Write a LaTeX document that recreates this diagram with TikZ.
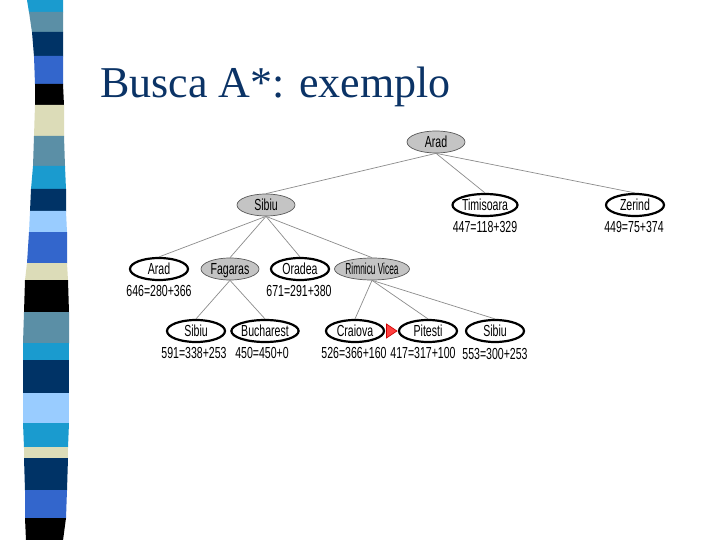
\documentclass[tikz,border=0pt]{standalone}
\usepackage{fontspec}
\setmainfont{Liberation Serif}
\newfontfamily\treefont[FakeStretch=0.66]{Liberation Sans}
\newfontfamily\narrowtree[FakeStretch=0.52]{Liberation Sans}
\usetikzlibrary{shapes.geometric}
\definecolor{titlecol}{HTML}{0B3366}
\definecolor{scyan}{HTML}{1A9BCF}
\definecolor{ssteel}{HTML}{5B8FA6}
\definecolor{snavy}{HTML}{003366}
\definecolor{sroyal}{HTML}{3366CC}
\definecolor{sbeige}{HTML}{DCDCB8}
\definecolor{slight}{HTML}{99CCFF}
\definecolor{nodegray}{HTML}{C4C4C4}
\tikzset{
  basenode/.style={ellipse, minimum width=58pt, minimum height=22pt, inner sep=0pt, text height=12pt, text depth=1.5pt, font=\treefont\fontsize{16}{16}\selectfont},
  wnode/.style={basenode, draw=black, line width=2.2pt, fill=white},
  gnode/.style={basenode, draw=black!65, line width=0.7pt, fill=nodegray},
  lab/.style={inner sep=0pt, font=\treefont\fontsize{16}{16}\selectfont},
  edge/.style={draw=black!45, line width=0.7pt}
}
\begin{document}
\begin{tikzpicture}[x=1pt,y=-1pt]
\useasboundingbox (0,0) rectangle (720,540);
\fill[white] (0,0) rectangle (720,540);
% left decorative stripe
\foreach \ya/\yb/\la/\ra/\lb/\rb/\c in {
  0/12/27/63/29/63/scyan,
  12/32/29/63/32/63/ssteel,
  32/56/32/63/34/63/snavy,
  56/84/34/63/35/63/sroyal,
  84/105/35/63/35/64/black,
  105/136/35/64/34/64/sbeige,
  136/166/34/64/33/65/ssteel,
  166/189/33/65/31/66/scyan,
  189/211/31/66/30/66/snavy,
  211/232/30/66/29/67/slight,
  232/263/29/67/27/67/sroyal,
  263/280/27/67/25/68/sbeige,
  280/312/25/68/24/69/black,
  312/343/24/69/23/69/ssteel,
  343/360/23/69/23/69/scyan,
  360/393/23/69/23/69/snavy,
  393/423/23/69/23/69/slight,
  423/447/23/69/24/68/scyan,
  447/458/24/68/24/68/sbeige,
  458/490/24/68/25/67/snavy,
  490/518/25/67/25/66/sroyal,
  518/540/25/66/26/63/black}
  \fill[\c] (\la,\ya) -- (\ra,\ya) -- (\rb,\yb+0.4) -- (\lb,\yb+0.4) -- cycle;
% title
\node[anchor=base west, inner sep=0pt, text=titlecol, font=\fontsize{44}{52}\selectfont] (title) at (100,98) {Busca A*: exemplo};
% tree nodes
\node[gnode] (arad) at (436,142) {Arad};
\node[gnode] (sibiu) at (266,205) {Sibiu};
\node[wnode] (timi) at (485,205) {Timisoara};
\node[wnode] (zerind) at (635,205) {Zerind};
\node[wnode] (arad2) at (159,269) {Arad};
\node[gnode] (fagaras) at (230,269) {Fagaras};
\node[wnode] (oradea) at (300,269) {Oradea};
\node[gnode, font=\narrowtree\fontsize{16}{16}\selectfont] (rimnicu) at (372,269) {Rimnicu Vicea};
\node[wnode] (sibiu3) at (196,331) {Sibiu};
\node[wnode] (buch) at (265,331) {Bucharest};
\node[wnode] (craiova) at (355,331) {Craiova};
\node[wnode] (pitesti) at (428,331) {Pitesti};
\node[wnode] (sibiu4) at (495,331) {Sibiu};
% edges
\draw[edge] (arad.south) -- (sibiu.north);
\draw[edge] (arad.south) -- (timi.north);
\draw[edge] (arad.south) -- (zerind.north);
\draw[edge] (sibiu.south) -- (arad2.north);
\draw[edge] (sibiu.south) -- (fagaras.north);
\draw[edge] (sibiu.south) -- (oradea.north);
\draw[edge] (sibiu.south) -- (rimnicu.north);
\draw[edge] (fagaras.south) -- (sibiu3.north);
\draw[edge] (fagaras.south) -- (buch.north);
\draw[edge] (rimnicu.south) -- (craiova.north);
\draw[edge] (rimnicu.south) -- (pitesti.north);
\draw[edge] (rimnicu.south) -- (sibiu4.north);
% labels
\node[lab] (ltimi) at (485,227) {447=118+329};
\node[lab] (lzer) at (634,227) {449=75+374};
\node[lab] (larad2) at (159,291) {646=280+366};
\node[lab] (lorad) at (299,291) {671=291+380};
\node[lab] (lsib3) at (194,353) {591=338+253};
\node[lab] (lbuch) at (262,353) {450=450+0};
\node[lab] (lcrai) at (354,353) {526=366+160};
\node[lab] (lpit) at (423,353) {417=317+100};
\node[lab] (lsib4) at (495,354) {553=300+253};
% red marker
\filldraw[fill=red!75, draw=red!80!black, line width=0.6pt] (386.5,324) -- (397,331) -- (386.5,338) -- cycle;
\end{tikzpicture}
\end{document}
